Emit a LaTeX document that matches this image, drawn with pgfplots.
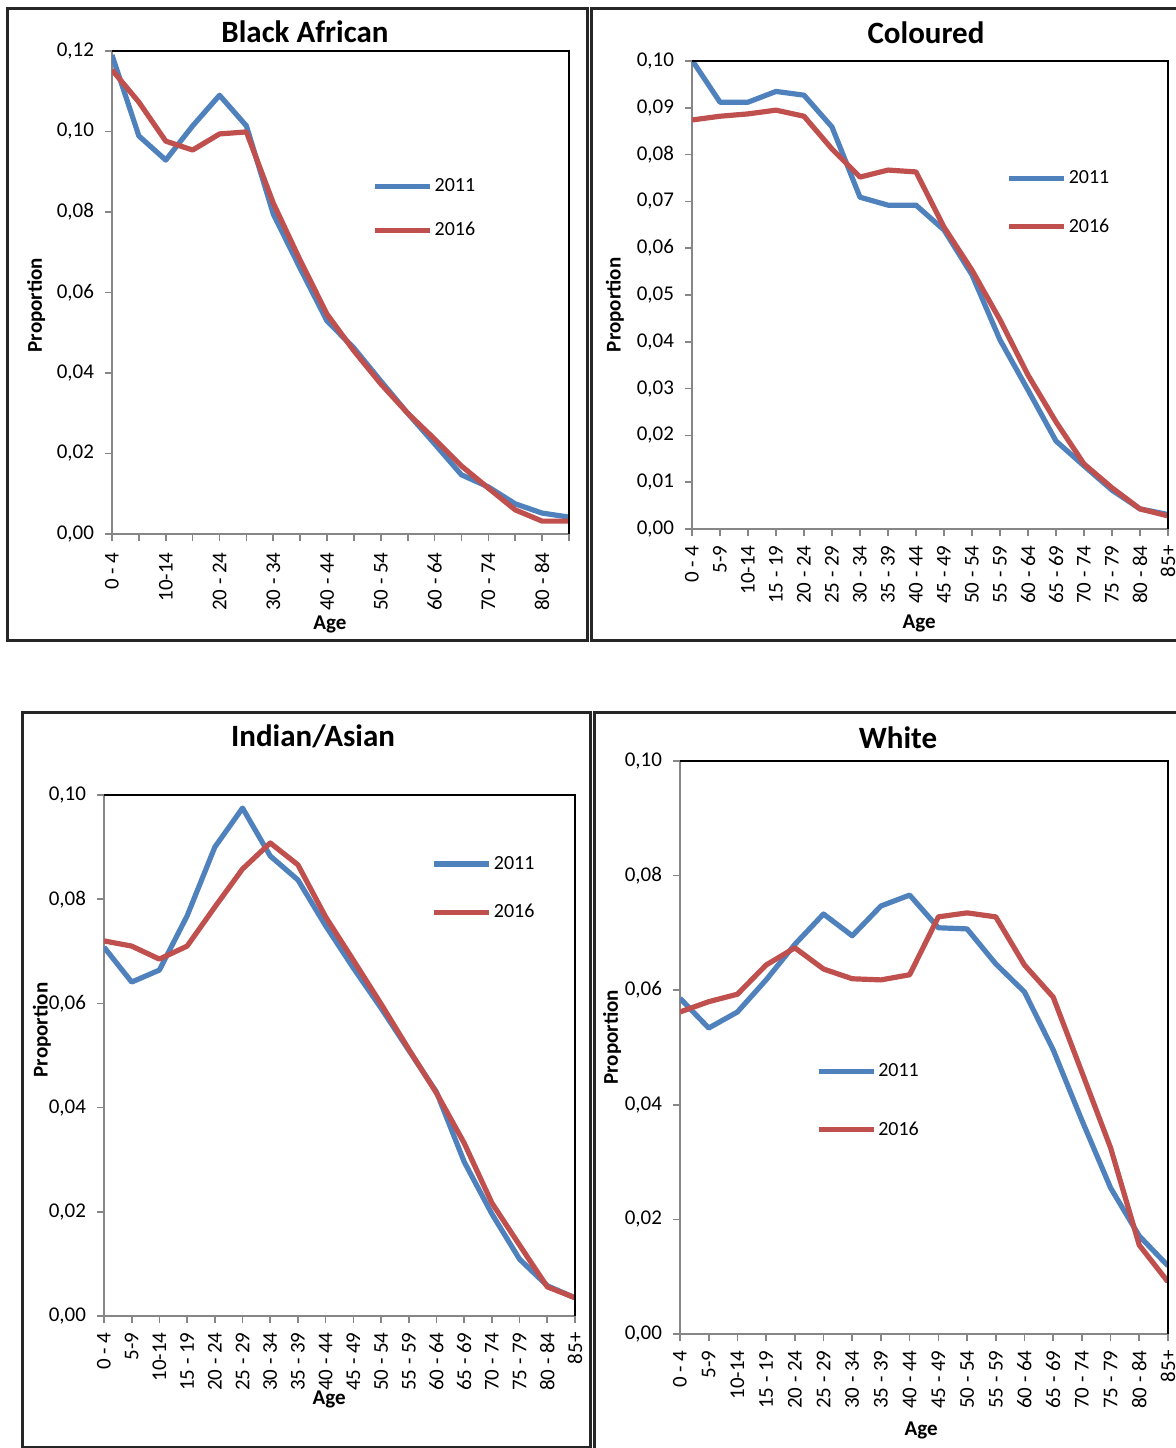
\documentclass[border=0pt]{standalone}
\usepackage{pgfplots}
\pgfplotsset{compat=1.18}
\usepackage{fontspec}
\setmainfont{Carlito}
\definecolor{xblue}{HTML}{4F81BD}
\definecolor{xred}{HTML}{C0504D}
\definecolor{axgray}{HTML}{868686}

\pgfplotsset{
 panel/.style={
  scale only axis,
  anchor=south west,
  xmin=0, xmax=17, ymin=0,
  xtick={0,...,17},
  axis x line*=bottom, axis y line*=left,
  axis line style={axgray, line width=1pt},
  tick style={axgray, line width=0.8pt},
  tick align=outside,
  major tick length=3.5pt,
  x tick label style={rotate=90, anchor=east, font=\fontsize{10.5}{12}\selectfont, inner xsep=4.5pt, inner ysep=1pt},
  y tick label style={font=\fontsize{10.5}{12}\selectfont, xshift=-2pt},
  yticklabel style={/pgf/number format/.cd, fixed, fixed zerofill, precision=2, use comma, assume math mode=true},
  scaled y ticks=false,
  xlabel={Age}, ylabel={Proportion},
  label style={font=\bfseries\fontsize{10.5}{12}\selectfont, anchor=center},
  legend style={draw=none, fill=none, font=\fontsize{10}{12}\selectfont, anchor=west, inner sep=0pt,
     nodes={inner sep=1pt}},
  legend cell align=left,
  legend image code/.code={\draw[#1] (0pt,0pt) -- (27.5pt,0pt);},
  every axis plot/.append style={line width=2.6pt, line join=round},
  after end axis/.code={\draw[black, line width=1pt] (rel axis cs:0,1) -- (rel axis cs:1,1) -- (rel axis cs:1,0);},
 },
 fullx/.style={xticklabels={0 - 4,5-9,10-14,15 - 19,20 - 24,25 - 29,30 - 34,35 - 39,40 - 44,45 - 49,50 - 54,55 - 59,60 - 64,65 - 69,70 - 74,75 - 79,80 - 84,85+}},
}

\begin{document}
\begin{tikzpicture}
\useasboundingbox (0pt,0pt) rectangle (588pt,-724pt);

% panel frames
\draw[line width=1.5pt, black!85] (3.5pt,-4pt) rectangle (293.5pt,-320pt);
\draw[line width=1.5pt, black!85] (295.5pt,-4pt) rectangle (600pt,-320pt);
\draw[line width=1.5pt, black!85] (11pt,-356pt) rectangle (295pt,-723.5pt);
\draw[line width=1.5pt, black!85] (297pt,-356pt) rectangle (600pt,-740pt);

% titles
\node[font=\bfseries\fontsize{15.5}{18}\selectfont] at (152.5pt,-15.75pt) {Black African};
\node[font=\bfseries\fontsize{15.5}{18}\selectfont] at (463pt,-16.5pt) {Coloured};
\node[font=\bfseries\fontsize{15.5}{18}\selectfont] at (156.5pt,-368pt) {Indian/Asian};
\node[font=\bfseries\fontsize{15.5}{18}\selectfont] at (449pt,-369pt) {White};

% Black African
\begin{axis}[panel, at={(56pt,-267pt)}, width=228.5pt, height=241.5pt,
  ymax=0.12, ytick={0,0.02,...,0.121},
  xticklabels={0 - 4,{},10-14,{},20 - 24,{},30 - 34,{},40 - 44,{},50 - 54,{},60 - 64,{},70 - 74,{},80 - 84,{}},
  x tick label style={inner xsep=5.5pt},
  xlabel style={at={(axis description cs:0.477,-0.188)}},
  ylabel style={at={(axis description cs:-0.166,0.474)}},
  legend style={at={(axis description cs:0.569,0.674)}, row sep=12pt},
]
\addplot[xblue] coordinates {(0,0.119)(1,0.0989)(2,0.0929)(3,0.1014)(4,0.109)(5,0.1014)(6,0.0795)(7,0.066)(8,0.0529)(9,0.0462)(10,0.038)(11,0.030)(12,0.0224)(13,0.0147)(14,0.0117)(15,0.0075)(16,0.0052)(17,0.0042)};
\addplot[xred] coordinates {(0,0.1153)(1,0.1073)(2,0.0976)(3,0.0954)(4,0.0994)(5,0.0999)(6,0.0822)(7,0.068)(8,0.0546)(9,0.0455)(10,0.0373)(11,0.030)(12,0.0236)(13,0.0169)(14,0.0114)(15,0.006)(16,0.0032)(17,0.0032)};
\legend{2011,2016}
\end{axis}

% Coloured
\begin{axis}[panel, fullx, at={(346pt,-264.5pt)}, width=238pt, height=234pt,
  ymax=0.10, ytick={0,0.01,...,0.101},
  xlabel style={at={(axis description cs:0.477,-0.201)}},
  ylabel style={at={(axis description cs:-0.162,0.479)}},
  legend style={at={(axis description cs:0.660,0.697)}, row sep=14pt},
]
\addplot[xblue] coordinates {(0,0.1002)(1,0.0912)(2,0.0912)(3,0.0935)(4,0.0927)(5,0.0859)(6,0.0709)(7,0.0692)(8,0.0692)(9,0.0639)(10,0.0543)(11,0.0404)(12,0.0297)(13,0.0188)(14,0.0135)(15,0.0083)(16,0.0043)(17,0.0031)};
\addplot[xred] coordinates {(0,0.0874)(1,0.0882)(2,0.0887)(3,0.0895)(4,0.0882)(5,0.0812)(6,0.0752)(7,0.0767)(8,0.0763)(9,0.0645)(10,0.0553)(11,0.0447)(12,0.0329)(13,0.0229)(14,0.0139)(15,0.0088)(16,0.0043)(17,0.0028)};
\legend{2011,2016}
\end{axis}

% Indian/Asian
\begin{axis}[panel, fullx, at={(52pt,-658pt)}, width=235.5pt, height=260.5pt,
  ymax=0.10, ytick={0,0.02,...,0.101},
  xlabel style={at={(axis description cs:0.478,-0.161)}},
  ylabel style={at={(axis description cs:-0.132,0.549)}},
  legend style={at={(axis description cs:0.695,0.821)}, row sep=14pt},
]
\addplot[xblue] coordinates {(0,0.0708)(1,0.0641)(2,0.0664)(3,0.0768)(4,0.090)(5,0.0975)(6,0.0883)(7,0.0837)(8,0.0749)(9,0.0668)(10,0.0591)(11,0.051)(12,0.043)(13,0.0296)(14,0.0196)(15,0.0109)(16,0.0058)(17,0.0035)};
\addplot[xred] coordinates {(0,0.072)(1,0.071)(2,0.0685)(3,0.071)(4,0.0785)(5,0.0858)(6,0.0908)(7,0.0866)(8,0.0766)(9,0.0683)(10,0.0599)(11,0.0512)(12,0.0428)(13,0.0332)(14,0.0217)(15,0.0136)(16,0.0056)(17,0.0035)};
\legend{2011,2016}
\end{axis}

% White
\begin{axis}[panel, fullx, at={(340pt,-667pt)}, width=244pt, height=286.5pt,
  ymax=0.10, ytick={0,0.02,...,0.101},
  xlabel style={at={(axis description cs:0.494,-0.168)}},
  ylabel style={at={(axis description cs:-0.139,0.518)}},
  legend style={at={(axis description cs:0.278,0.407)}, row sep=19pt},
]
\addplot[xblue] coordinates {(0,0.0586)(1,0.0534)(2,0.0562)(3,0.0618)(4,0.068)(5,0.0733)(6,0.0695)(7,0.0747)(8,0.0766)(9,0.0709)(10,0.0707)(11,0.0646)(12,0.0597)(13,0.0496)(14,0.0373)(15,0.0255)(16,0.0171)(17,0.0119)};
\addplot[xred] coordinates {(0,0.0562)(1,0.058)(2,0.0593)(3,0.0644)(4,0.0674)(5,0.0637)(6,0.062)(7,0.0618)(8,0.0627)(9,0.0728)(10,0.0735)(11,0.0728)(12,0.0644)(13,0.0588)(14,0.0457)(15,0.0325)(16,0.0155)(17,0.0091)};
\legend{2011,2016}
\end{axis}
\end{tikzpicture}
\end{document}
